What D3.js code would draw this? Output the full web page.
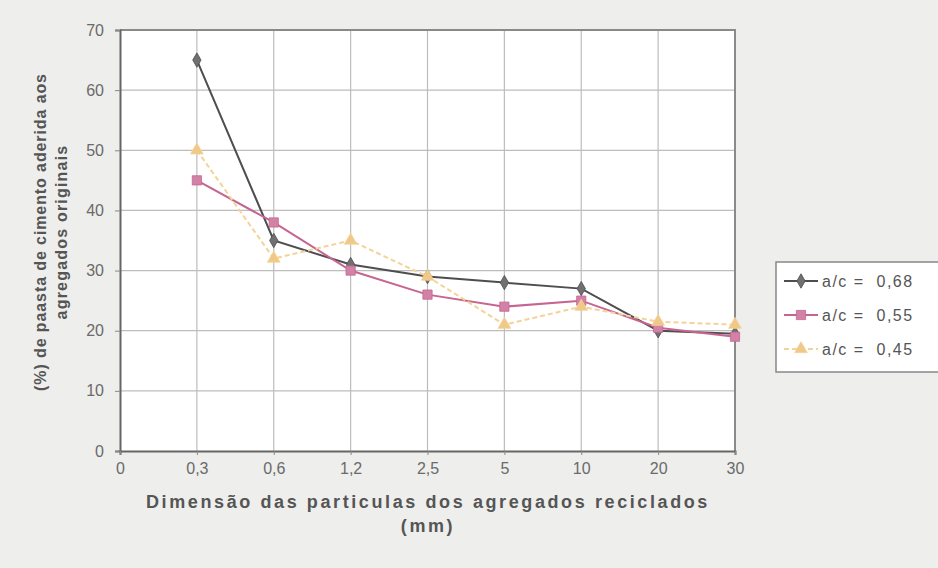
<!DOCTYPE html>
<html>
<head>
<meta charset="utf-8">
<script src="https://cdn.jsdelivr.net/npm/d3@7"></script>
<style>
  html, body { margin: 0; padding: 0; background: #eeeeec; }
  svg { display: block; }
  text { font-family: "Liberation Sans", Arial, sans-serif; }
</style>
</head>
<body>
<svg id="chart" width="938" height="568"></svg>
<script>
// Particle size classes (mm) on the category axis
const categories = ["0", "0,3", "0,6", "1,2", "2,5", "5", "10", "20", "30"];
const dataCategories = ["0,3", "0,6", "1,2", "2,5", "5", "10", "20", "30"];

// Adhered cement paste (%) for each water/cement ratio
const seriesNames = ["a/c =  0,68", "a/c =  0,55", "a/c =  0,45"];
const ac068 = [65, 35, 31, 29, 28, 27, 20, 19.5];
const ac055 = [45, 38, 30, 26, 24, 25, 20.5, 19];
const ac045 = [50, 32, 35, 29, 21, 24, 21.5, 21];

const yTicks = [0, 10, 20, 30, 40, 50, 60, 70];

const series = [
  { name: seriesNames[0], values: ac068, line: "#4e4e4e", fill: "#707070", symbol: d3.symbolDiamond, size: 60, dash: null },
  { name: seriesNames[1], values: ac055, line: "#c66591", fill: "#d282a6", symbol: d3.symbolSquare, size: 85, dash: null },
  { name: seriesNames[2], values: ac045, line: "#f3d498", fill: "#f0c888", symbol: d3.symbolTriangle, size: 70, dash: "5,3" }
];

const svg = d3.select("#chart");
const plotLeft = 120, plotRight = 735, plotTop = 30, plotBottom = 451;

const x = d3.scalePoint().domain(categories).range([plotLeft, plotRight]);
const y = d3.scaleLinear().domain([0, 70]).range([plotBottom, plotTop]);

// plot area
svg.append("rect")
  .attr("x", plotLeft).attr("y", plotTop)
  .attr("width", plotRight - plotLeft).attr("height", plotBottom - plotTop)
  .attr("fill", "#ffffff");

// horizontal gridlines
svg.append("g")
  .selectAll("line")
  .data(yTicks.filter(v => v > 0 && v < 70))
  .join("line")
  .attr("x1", plotLeft).attr("x2", plotRight)
  .attr("y1", d => y(d)).attr("y2", d => y(d))
  .attr("stroke", "#bdbdbd").attr("stroke-width", 1.2);

// vertical gridlines
svg.append("g")
  .selectAll("line")
  .data(categories.slice(1, -1))
  .join("line")
  .attr("x1", d => x(d)).attr("x2", d => x(d))
  .attr("y1", plotTop).attr("y2", plotBottom)
  .attr("stroke", "#bdbdbd").attr("stroke-width", 1.2);

// top and right frame
svg.append("path")
  .attr("d", `M${plotLeft},${plotTop}H${plotRight}V${plotBottom}`)
  .attr("fill", "none").attr("stroke", "#8a8a8a").attr("stroke-width", 2);

// y axis
const yAxis = svg.append("g")
  .attr("transform", `translate(${plotLeft},0)`)
  .call(d3.axisLeft(y).tickValues(yTicks).tickSize(5).tickPadding(11).tickFormat(d3.format("d")));
yAxis.select(".domain").attr("stroke", "#666").attr("stroke-width", 2);
yAxis.selectAll(".tick line").attr("stroke", "#888");
yAxis.selectAll("text").attr("font-size", 16).attr("fill", "#6a6a6a");

// x axis
const xAxis = svg.append("g")
  .attr("transform", `translate(0,${plotBottom})`)
  .call(d3.axisBottom(x).tickSize(4).tickPadding(8));
xAxis.select(".domain").attr("stroke", "#666").attr("stroke-width", 2);
xAxis.selectAll(".tick line").attr("stroke", "#888");
xAxis.selectAll("text").attr("font-size", 16).attr("fill", "#6a6a6a");

// series lines and markers
const line = d3.line()
  .x((d, i) => x(dataCategories[i]))
  .y(d => y(d));

series.forEach(s => {
  svg.append("path")
    .datum(s.values)
    .attr("d", line)
    .attr("fill", "none")
    .attr("stroke", s.line)
    .attr("stroke-width", 2)
    .attr("stroke-dasharray", s.dash);
});
series.forEach(s => {
  svg.append("g")
    .selectAll("path")
    .data(s.values)
    .join("path")
    .attr("transform", (d, i) => `translate(${x(dataCategories[i])},${y(d)})`)
    .attr("d", d3.symbol().type(s.symbol).size(s.size))
    .attr("fill", s.fill)
    .attr("stroke", s.line)
    .attr("stroke-width", 0.8);
});

// axis titles
const titleStyle = sel => sel
  .attr("text-anchor", "middle")
  .attr("font-weight", "bold").attr("fill", "#555");

svg.append("text")
  .attr("transform", "translate(46,232) rotate(-90)")
  .call(titleStyle)
  .attr("font-size", 16).attr("letter-spacing", 0.9)
  .text("(%) de paasta de cimento aderida aos");
svg.append("text")
  .attr("transform", "translate(67,232) rotate(-90)")
  .call(titleStyle)
  .attr("font-size", 16).attr("letter-spacing", 1.2)
  .text("agregados originais");

svg.append("text")
  .attr("x", 428).attr("y", 508)
  .call(titleStyle)
  .attr("font-size", 18).attr("letter-spacing", 2.6)
  .text("Dimensão das particulas dos agregados reciclados");
svg.append("text")
  .attr("x", 428).attr("y", 532)
  .call(titleStyle)
  .attr("font-size", 18).attr("letter-spacing", 2.6)
  .text("(mm)");

// legend
const legend = svg.append("g").attr("transform", "translate(776,262)");
legend.append("rect")
  .attr("x", 0).attr("y", 0).attr("width", 175).attr("height", 110)
  .attr("fill", "#ffffff").attr("stroke", "#888").attr("stroke-width", 1.5);
series.forEach((s, i) => {
  const g = legend.append("g").attr("transform", `translate(0,${19 + i * 34})`);
  g.append("line")
    .attr("x1", 8).attr("x2", 42).attr("y1", 0).attr("y2", 0)
    .attr("stroke", s.line).attr("stroke-width", 2)
    .attr("stroke-dasharray", s.dash);
  g.append("path")
    .attr("transform", "translate(25,0)")
    .attr("d", d3.symbol().type(s.symbol).size(s.size))
    .attr("fill", s.fill).attr("stroke", s.line).attr("stroke-width", 0.8);
  g.append("text")
    .attr("x", 46).attr("y", 6)
    .attr("font-size", 16).attr("fill", "#555")
    .attr("letter-spacing", 1.5)
    .attr("xml:space", "preserve")
    .text(s.name);
});
</script>
</body>
</html>
